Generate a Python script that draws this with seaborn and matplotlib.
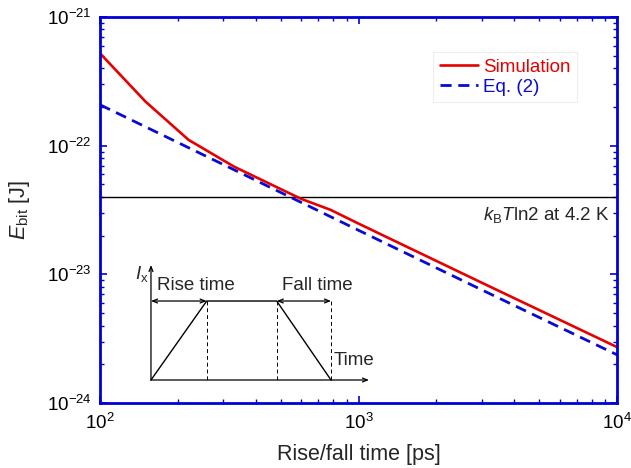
import matplotlib
matplotlib.use('Agg')
import matplotlib.pyplot as plt
import seaborn as sns
import pandas as pd
from matplotlib.ticker import FixedLocator, LogLocator, NullFormatter

# ---- data ----
sim_t = [100, 150, 220, 330, 600, 780, 1000, 3000, 10000]
sim_e = [5.22e-22, 2.20e-22, 1.11e-22, 6.87e-23, 3.86e-23, 3.17e-23, 2.48e-23, 8.6e-24, 2.72e-24]
eq_t = [100, 300, 1000, 3000, 10000]
eq_e = [2.08e-22, 7.13e-23, 2.2e-23, 7.57e-24, 2.37e-24]
kT_ln2 = 4.02e-23
x_ticks = [1e2, 1e3, 1e4]
x_labels = ['$10^{2}$', '$10^{3}$', '$10^{4}$']
y_ticks = [1e-24, 1e-23, 1e-22, 1e-21]
y_labels = ['$10^{\u002d24}$', '$10^{\u002d23}$', '$10^{\u002d22}$', '$10^{\u002d21}$']

sns.set_style('ticks')
plt.rcParams['font.family'] = ['Liberation Sans', 'DejaVu Sans']
plt.rcParams['mathtext.fontset'] = 'custom'
plt.rcParams['mathtext.rm'] = 'Liberation Sans'
plt.rcParams['mathtext.it'] = 'Liberation Sans:italic'
plt.rcParams['mathtext.bf'] = 'Liberation Sans:bold'

RED = '#e60000'
BLUE = '#0a0ad2'
SPINE = '#0000d8'

fig = plt.figure(figsize=(6.31, 4.68), dpi=100)
ax = fig.add_axes([100/631, 65/468, 517/631, 386/468])

df_sim = pd.DataFrame({'t': sim_t, 'E': sim_e})
df_eq = pd.DataFrame({'t': eq_t, 'E': eq_e})
sns.lineplot(data=df_sim, x='t', y='E', ax=ax, color=RED, lw=1.9, label='Simulation')
sns.lineplot(data=df_eq, x='t', y='E', ax=ax, color=BLUE, lw=2.0,
             linestyle=(0, (4, 2.4)), label='Eq. (2)')
ax.axhline(kT_ln2, color='black', lw=1.0, zorder=1)

ax.set_xscale('log')
ax.set_yscale('log')
ax.set_xlim(1e2, 1e4)
ax.set_ylim(1e-24, 1e-21)

ax.xaxis.set_major_locator(FixedLocator(x_ticks))
ax.yaxis.set_major_locator(FixedLocator(y_ticks))
ax.set_xticklabels(x_labels)
ax.set_yticklabels(y_labels)
ax.xaxis.set_minor_locator(LogLocator(base=10, subs=range(2, 10), numticks=20))
ax.yaxis.set_minor_locator(LogLocator(base=10, subs=range(2, 10), numticks=20))
ax.xaxis.set_minor_formatter(NullFormatter())
ax.yaxis.set_minor_formatter(NullFormatter())

for s in ax.spines.values():
    s.set_visible(True)
    s.set_color(SPINE)
    s.set_linewidth(2.0)
ax.tick_params(which='both', direction='in', top=True, right=True, color=SPINE,
               labelcolor='black', labelsize=13.5)
ax.tick_params(which='major', length=4.8, width=1.2)
ax.tick_params(which='minor', length=3.0, width=1.0)
ax.tick_params(axis='x', pad=7)
ax.tick_params(axis='y', pad=6)

ax.set_xlabel('Rise/fall time [ps]', fontsize=15.5, labelpad=8)
ax.set_ylabel(r'$E_{\mathrm{bit}}$ [J]', fontsize=15.5, labelpad=11)

leg = ax.legend(loc='upper right', bbox_to_anchor=(0.923, 0.909), borderaxespad=0,
                fontsize=13.5, handlelength=2.0, handletextpad=0.3, labelspacing=0.15,
                borderpad=0.35, fancybox=False, framealpha=1)
leg.get_frame().set_edgecolor('#eeeeee')
leg.get_frame().set_linewidth(0.8)
for txt, c in zip(leg.get_texts(), [RED, BLUE]):
    txt.set_color(c)

ax.text(0.985, 0.487, r'$k_{\mathrm{B}}T$ln2 at 4.2 K', transform=ax.transAxes,
        ha='right', va='center', fontsize=13.5)

# ---- inset schematic (axes coordinates) ----
T = ax.transAxes
x0, y0 = 0.0986, 0.0596
xr, xp, xf = 0.2064, 0.3418, 0.4468
ytop = 0.2642
arrow_kw = dict(arrowstyle='->,head_length=0.35,head_width=0.14', color='black', lw=0.9,
                shrinkA=0, shrinkB=0)
ax.annotate('', xy=(x0, 0.3575), xytext=(x0, y0), xycoords=T, textcoords=T, arrowprops=arrow_kw)
ax.annotate('', xy=(0.5203, y0), xytext=(x0, y0), xycoords=T, textcoords=T, arrowprops=arrow_kw)
d_kw = dict(arrowstyle='<->,head_length=0.35,head_width=0.14', color='black', lw=0.9,
            shrinkA=0, shrinkB=0)
ax.annotate('', xy=(xr, ytop), xytext=(x0, ytop), xycoords=T, textcoords=T, arrowprops=d_kw)
ax.annotate('', xy=(xf, ytop), xytext=(xp, ytop), xycoords=T, textcoords=T, arrowprops=d_kw)
ax.plot([x0, xr, xp, xf], [y0, ytop, ytop, y0], color='black', lw=1.0, transform=T)
for xv in (xr, xp, xf):
    ax.plot([xv, xv], [ytop, y0], color='black', lw=0.7, ls=(0, (4, 3)), transform=T)
ax.text(0.0677, 0.334, r'$I_{\mathrm{x}}$', transform=T, ha='left', va='center', fontsize=13.5)
ax.text(0.1103, 0.304, 'Rise time', transform=T, ha='left', va='center', fontsize=13.5)
ax.text(0.3514, 0.304, 'Fall time', transform=T, ha='left', va='center', fontsize=13.5)
ax.text(0.4526, 0.110, 'Time', transform=T, ha='left', va='center', fontsize=13.5)

fig.savefig('out.png', dpi=100)
